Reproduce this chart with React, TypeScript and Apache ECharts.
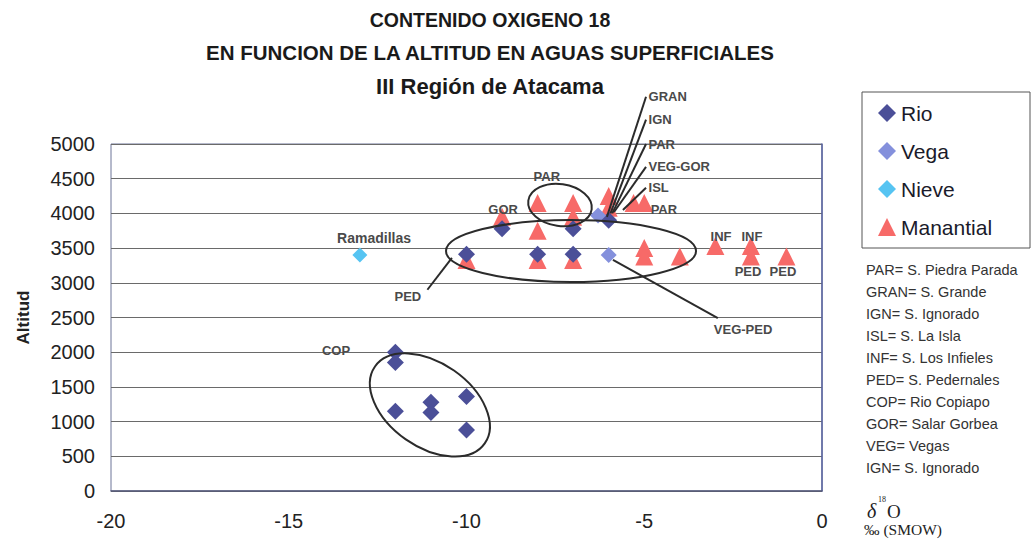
import React, { useEffect, useRef } from "react";
import * as echarts from "echarts";

const titleLines = [
  "CONTENIDO OXIGENO 18",
  "EN FUNCION DE LA ALTITUD EN AGUAS SUPERFICIALES",
  "III Región de Atacama",
];

const seriesNames = ["Rio", "Vega", "Nieve", "Manantial"];

const rioPoints: [number, number][] = [
  [-12, 2000], [-12, 1850], [-12, 1150], [-11, 1280], [-11, 1130], [-10, 1360], [-10, 880],
  [-10, 3410], [-8, 3410], [-7, 3410], [-9, 3780], [-7, 3780], [-6, 3900],
];
const vegaPoints: [number, number][] = [[-6, 3400], [-6.3, 3970]];
const nievePoints: [number, number][] = [[-13, 3400]];
const manantialPoints: [number, number][] = [
  [-10, 3330], [-8, 3330], [-7, 3330],
  [-9, 3950], [-8, 3750], [-7, 3950],
  [-8, 4150], [-7, 4150], [-6, 4250], [-6, 4080], [-5.3, 4150], [-5, 4150],
  [-5, 3500], [-5, 3380], [-4, 3380], [-3, 3530], [-2, 3530], [-2, 3380], [-1, 3380],
];

const footnotes = [
  "PAR= S. Piedra Parada",
  "GRAN= S. Grande",
  "IGN= S. Ignorado",
  "ISL= S. La Isla",
  "INF= S. Los Infieles",
  "PED= S. Pedernales",
  "COP= Rio Copiapo",
  "GOR= Salar Gorbea",
  "VEG= Vegas",
  "IGN= S. Ignorado",
];

// annotation labels placed in data coordinates: [text, x, y, align]
const pointLabels: [string, number, number, string][] = [
  ["Ramadillas", -12.6, 3650, "center"],
  ["PED", -11.65, 2800, "center"],
  ["COP", -13.67, 2030, "center"],
  ["GOR", -8.97, 4060, "center"],
  ["PAR", -7.74, 4525, "center"],
  ["INF", -2.84, 3660, "center"],
  ["INF", -1.97, 3660, "center"],
  ["PED", -2.08, 3160, "center"],
  ["PED", -1.1, 3160, "center"],
  ["VEG-PED", -2.22, 2330, "center"],
  ["GRAN", -4.88, 5680, "left"],
  ["IGN", -4.88, 5350, "left"],
  ["PAR", -4.88, 5000, "left"],
  ["VEG-GOR", -4.88, 4670, "left"],
  ["ISL", -4.88, 4370, "left"],
  ["PAR", -4.82, 4050, "left"],
];

// leader lines in data coordinates: [x1, y1, x2, y2]
const leaderLines: [number, number, number, number][] = [
  [-6.05, 3950, -4.95, 5680],
  [-5.95, 4000, -4.95, 5350],
  [-5.9, 4000, -4.95, 5000],
  [-5.85, 4020, -4.95, 4670],
  [-5.6, 4050, -4.95, 4370],
  [-10.41, 3360, -11.1, 2900],
  [-5.88, 3330, -2.93, 2490],
];

// ellipses: [cx, cy (data), rx, ry (px), rotation (deg, clockwise)]
const ellipses: [number, number, number, number, number][] = [
  [-11.03, 1240, 67, 42, 35],
  [-7.06, 3458, 125, 31, 0],
  [-7.37, 4121, 32, 21, 8],
];

const FONT = "'Liberation Sans', Arial, sans-serif";
const SERIF = "'Liberation Serif', serif";

export default function App() {
  const ref = useRef<HTMLDivElement>(null);
  useEffect(() => {
    const chart = echarts.init(ref.current!, null, { renderer: "svg" });
    chart.setOption({
      animation: false,
      backgroundColor: "#ffffff",
      textStyle: { fontFamily: FONT },
      grid: {
        left: 111,
        top: 144,
        width: 711,
        height: 347,
        show: true,
        borderColor: "#6d7598",
        borderWidth: 1,
      },
      legend: {
        orient: "vertical",
        left: 878,
        top: 102,
        padding: 0,
        itemWidth: 18,
        itemHeight: 18,
        itemGap: 16,
        itemStyle: { opacity: 1 },
        data: seriesNames,
        textStyle: { fontSize: 21, color: "#1a1a2a", lineHeight: 22, fontFamily: FONT },
      },
      xAxis: {
        type: "value",
        min: -20,
        max: 0,
        interval: 5,
        axisLine: { show: true, onZero: false, lineStyle: { color: "#555a7a", width: 1.5 } },
        axisTick: { show: false },
        splitLine: { show: false },
        axisLabel: { fontSize: 20, color: "#222", margin: 20 },
      },
      yAxis: {
        type: "value",
        min: 0,
        max: 5000,
        interval: 500,
        name: "Altitud",
        nameLocation: "middle",
        nameRotate: 90,
        nameGap: 79,
        nameTextStyle: { fontSize: 17, fontWeight: "bold", color: "#222" },
        axisLine: { show: true, lineStyle: { color: "#5a64a0", width: 1.5 } },
        axisTick: { show: false },
        splitLine: { show: true, lineStyle: { color: "#6a6a6a", width: 1 } },
        axisLabel: { fontSize: 20, color: "#222", margin: 16, formatter: (v: number) => String(v) },
      },
      series: [
        {
          name: "Rio",
          type: "scatter",
          symbol: "diamond",
          symbolSize: 17,
          z: 3,
          itemStyle: { color: "#4b4f98", opacity: 1 },
          data: rioPoints,
        },
        {
          name: "Vega",
          type: "scatter",
          symbol: "diamond",
          symbolSize: 16,
          z: 3,
          itemStyle: { color: "#8490dc", opacity: 1 },
          data: vegaPoints,
        },
        {
          name: "Nieve",
          type: "scatter",
          symbol: "diamond",
          symbolSize: 15,
          z: 3,
          itemStyle: { color: "#56c4f2", opacity: 1 },
          data: nievePoints,
        },
        {
          name: "Manantial",
          type: "scatter",
          symbol: "triangle",
          symbolSize: [18, 18],
          z: 2,
          itemStyle: { color: "#f76a68", opacity: 1 },
          data: manantialPoints,
        },
      ],
    });

    const p = (x: number, y: number) => chart.convertToPixel({ gridIndex: 0 }, [x, y]) as number[];
    const graphics: any[] = [];

    const titleSizes = [19.5, 20.5, 22];
    const titleY = [20, 52, 86];
    titleLines.forEach((t, i) => {
      graphics.push({
        type: "text",
        x: 490,
        y: titleY[i],
        style: {
          text: t,
          fontSize: titleSizes[i],
          fontWeight: "bold",
          fontFamily: FONT,
          fill: "#1a1a1a",
          textAlign: "center",
          textVerticalAlign: "middle",
        },
      });
    });

    graphics.push({
      type: "rect",
      shape: { x: 862, y: 92, width: 168, height: 156 },
      style: { fill: "none", stroke: "#555", lineWidth: 1 },
    });

    footnotes.forEach((t, i) => {
      graphics.push({
        type: "text",
        x: 866,
        y: 270 + i * 22,
        style: {
          text: t,
          fontSize: 14.5,
          fontFamily: FONT,
          fill: "#333",
          textAlign: "left",
          textVerticalAlign: "middle",
        },
      });
    });

    graphics.push(
      {
        type: "text",
        x: 867,
        y: 511,
        style: { text: "δ", fontSize: 20, fontStyle: "italic", fontFamily: SERIF, fill: "#222", textAlign: "left", textVerticalAlign: "middle" },
      },
      {
        type: "text",
        x: 878,
        y: 499,
        style: { text: "18", fontSize: 8, fontFamily: SERIF, fill: "#222", textAlign: "left", textVerticalAlign: "middle" },
      },
      {
        type: "text",
        x: 887,
        y: 511,
        style: { text: "O", fontSize: 19, fontFamily: SERIF, fill: "#222", textAlign: "left", textVerticalAlign: "middle" },
      },
      {
        type: "text",
        x: 864,
        y: 529,
        style: { text: "‰ (SMOW)", fontSize: 15.5, fontFamily: SERIF, fill: "#222", textAlign: "left", textVerticalAlign: "middle" },
      }
    );

    ellipses.forEach(([cx, cy, rx, ry, rot]) => {
      const c = p(cx, cy);
      graphics.push({
        type: "ellipse",
        x: c[0],
        y: c[1],
        rotation: (-rot * Math.PI) / 180,
        shape: { cx: 0, cy: 0, rx, ry },
        style: { fill: "none", stroke: "#2b2b2b", lineWidth: 2 },
        z: 10,
      });
    });

    leaderLines.forEach(([x1, y1, x2, y2]) => {
      const a = p(x1, y1);
      const b = p(x2, y2);
      graphics.push({
        type: "line",
        shape: { x1: a[0], y1: a[1], x2: b[0], y2: b[1] },
        style: { stroke: "#2b2b2b", lineWidth: 2 },
        z: 10,
      });
    });

    pointLabels.forEach(([t, x, y, align]) => {
      const c = p(x, y);
      graphics.push({
        type: "text",
        x: c[0],
        y: c[1],
        z: 11,
        style: {
          text: t,
          fontSize: t === "Ramadillas" ? 14 : 13,
          fontWeight: "bold",
          fontFamily: FONT,
          fill: "#4a4a4a",
          textAlign: align,
          textVerticalAlign: "middle",
        },
      });
    });

    chart.setOption({ graphic: graphics });
    return () => chart.dispose();
  }, []);
  return (
    <div
      ref={ref}
      style={{ position: "absolute", left: 0, top: 0, width: 1035, height: 544, background: "#fff" }}
    />
  );
}
